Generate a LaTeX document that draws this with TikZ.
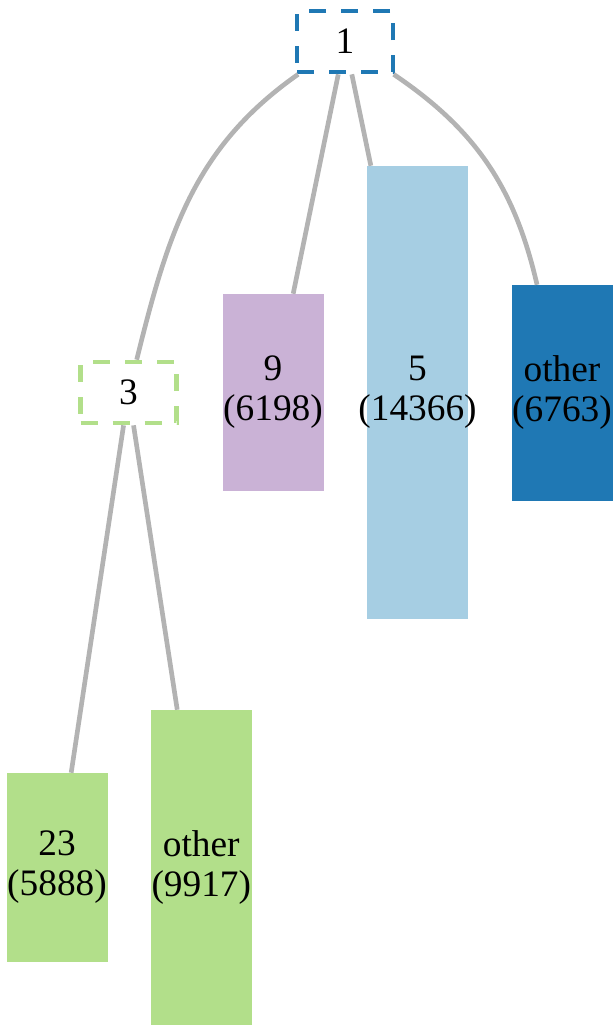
\documentclass[tikz,border=0pt]{standalone}
\usepackage{fontspec}
\setmainfont{Liberation Serif}
\usepackage{xcolor}
\usepackage{tikz}
\usetikzlibrary{positioning}

\definecolor{darkblue}{HTML}{1F78B4}
\definecolor{lightblue}{HTML}{A6CEE3}
\definecolor{lilac}{HTML}{CAB2D6}
\definecolor{lightgreen}{HTML}{B2DF8A}
\definecolor{edgegray}{HTML}{B3B3B3}

\tikzset{
    split/.style={draw=#1, line width=3.5pt, dash pattern=on 12.75pt off 11.25pt,
        minimum width=72pt, minimum height=45.75pt, inner sep=0pt},
    leaf/.style={fill=#1, minimum width=75.75pt, inner sep=0pt, align=center},
    link/.style={draw=edgegray, line width=3.5pt}
}

\begin{document}
\begin{tikzpicture}[x=0.75pt, y=-0.75pt, font=\fontsize{28}{30}\selectfont]
            \useasboundingbox (0,0) rectangle (613,1025);
            \node[split=darkblue] (n1) at (345,41.5) {1};
            \node[split=lightgreen] (n3) at (128.5,392.5) {3};
            \node[leaf=lilac, minimum height=147.75pt] (n9) at (273,392.5) {9\\(6198)};
            \node[leaf=lightblue, minimum height=339.75pt] (n5) at (417.5,392.5) {5\\\makebox[0pt]{(14366)}};
            \node[leaf=darkblue, minimum height=162pt] (o1) at (562,393) {other\\\makebox[0pt]{(6763)}};
            \node[leaf=lightgreen, minimum height=141.75pt] (n23) at (57,867.5) {23\\(5888)};
            \node[leaf=lightgreen, minimum height=236.25pt] (o3) at (201.3,867.5) {other\\(9917)};
            \draw[link] (n1) edge[out=215, in=76] (n3);
            \draw[link] (n1) edge (n9);
            \draw[link] (n1) edge (n5);
            \draw[link] (n1) edge[out=-34, in=103] (o1);
            \draw[link] (n3) edge (n23);
            \draw[link] (n3) edge (o3);
        \end{tikzpicture}
\end{document}
